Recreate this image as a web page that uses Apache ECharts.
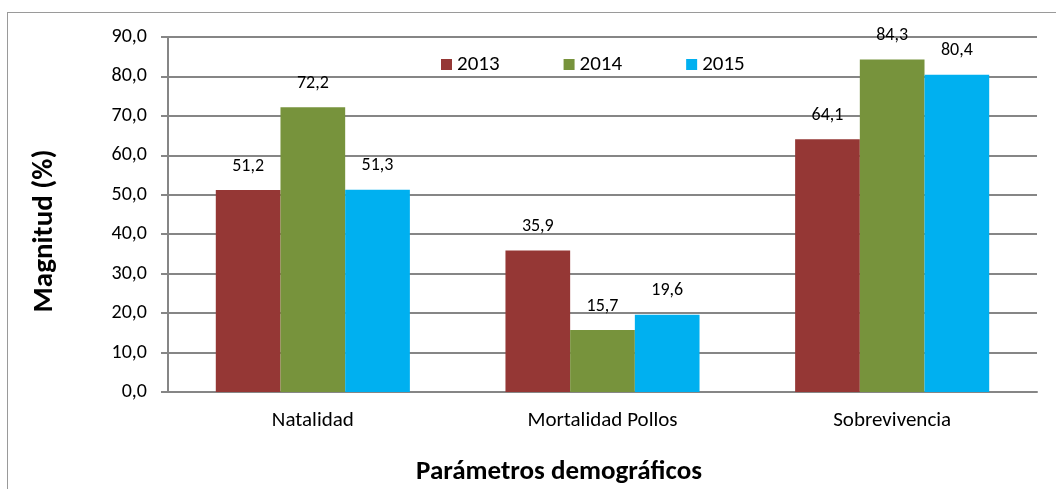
<!DOCTYPE html>
<html>
<head>
<meta charset="utf-8">
<script src="https://cdn.jsdelivr.net/npm/echarts@6/dist/echarts.min.js"></script>
<style>
  html, body { margin: 0; padding: 0; background: #fff; }
  #frame { position: absolute; left: 7px; top: 12px; width: 1060px; height: 490px; border: 1px solid #9a9a9a; box-sizing: border-box; }
  #chart { position: absolute; left: 0; top: 0; width: 1056px; height: 489px; }
</style>
</head>
<body>
<div id="frame"></div>
<div id="chart"></div>
<script>
var categories = ['Natalidad', 'Mortalidad Pollos', 'Sobrevivencia'];
var years = ['2013', '2014', '2015'];
var values2013 = [51.2, 35.9, 64.1];
var values2014 = [72.2, 15.7, 84.3];
var values2015 = [51.3, 19.6, 80.4];
var colors = ['#953735', '#77933C', '#00B0F0'];

var font = 'Carlito, Calibri, "Open Sans", sans-serif';

function fmt(v) {
  return v.toFixed(1).replace('.', ',');
}

function makeSeries(name, data, color) {
  return {
    name: name,
    type: 'bar',
    data: data,
    barGap: '0%',
    barCategoryGap: '33%',
    itemStyle: { color: color },
    label: {
      show: true,
      position: 'top',
      distance: 15,
      color: '#000',
      fontFamily: font,
      fontSize: 18,
      formatter: function (p) { return fmt(p.value); }
    }
  };
}

var chart = echarts.init(document.getElementById('chart'));
chart.setOption({
  animation: false,
  textStyle: { fontFamily: font },
  legend: {
    data: years,
    top: 49,
    left: 436,
    itemWidth: 11,
    itemHeight: 11,
    itemGap: 64,
    icon: 'rect',
    textStyle: { fontFamily: font, fontSize: 21, color: '#000' }
  },
  grid: { left: 168, right: 19, top: 37, bottom: 97 },
  graphic: [
    {
      type: 'text',
      x: 45,
      y: 231,
      rotation: Math.PI / 2,
      style: {
        text: 'Magnitud (%)',
        font: 'bold 29px ' + font,
        fill: '#000',
        align: 'center',
        verticalAlign: 'middle'
      }
    },
    {
      type: 'text',
      x: 559,
      y: 472,
      style: {
        text: 'Parámetros demográficos',
        font: 'bold 27px ' + font,
        fill: '#000',
        align: 'center',
        verticalAlign: 'middle'
      }
    }
  ],
  xAxis: {
    type: 'category',
    data: categories,
    axisLine: { lineStyle: { color: '#868686', width: 2 } },
    axisTick: { show: false },
    axisLabel: { fontFamily: font, fontSize: 21, color: '#000', margin: 18 }
  },
  yAxis: {
    type: 'value',
    min: 0,
    max: 90,
    interval: 10,
    axisLine: { show: true, lineStyle: { color: '#868686', width: 2 } },
    axisTick: { show: true, length: 7, lineStyle: { color: '#868686', width: 2 } },
    axisLabel: { fontFamily: font, fontSize: 20, color: '#000', margin: 21, formatter: function (v) { return fmt(v); } },
    splitLine: { lineStyle: { color: '#868686', width: 2 } }
  },
  series: [
    makeSeries(years[0], values2013, colors[0]),
    makeSeries(years[1], values2014, colors[1]),
    makeSeries(years[2], values2015, colors[2])
  ]
});
</script>
</body>
</html>
